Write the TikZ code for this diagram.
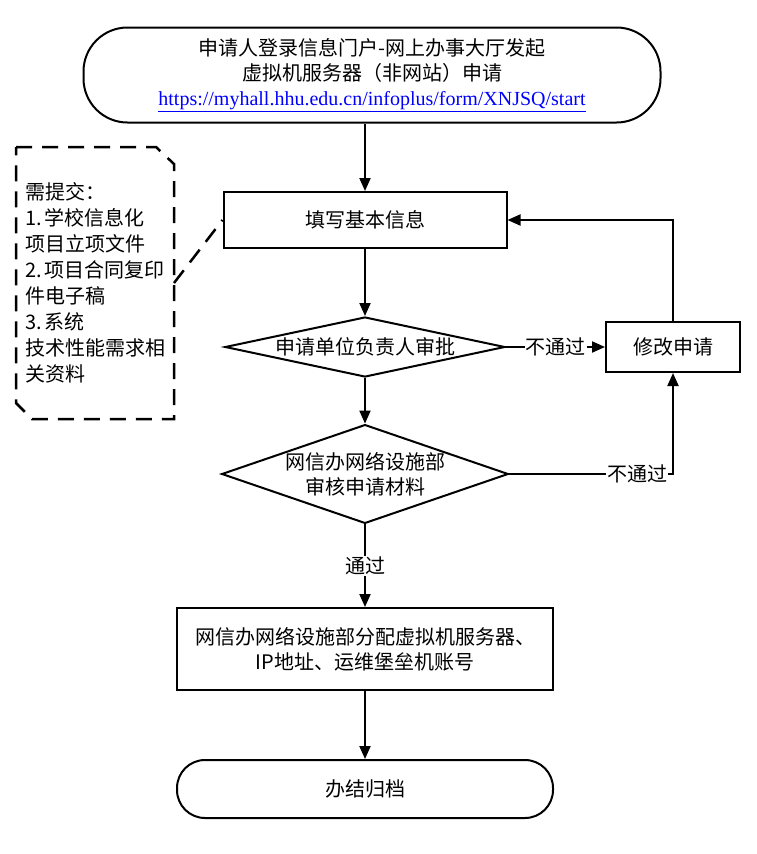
\documentclass[tikz,border=0pt]{standalone}
\usepackage{fontspec}
\usepackage{xcolor}
\usepackage{tikz}
\usetikzlibrary{arrows.meta,shapes.geometric}
\newfontfamily\cjk{Noto Sans CJK SC}
\newfontfamily\urlfont{Liberation Serif}
\definecolor{linkblue}{RGB}{0,0,255}

\begin{document}
\begin{tikzpicture}[x=1pt,y=-1pt,line width=2pt,
    every node/.style={font=\cjk\fontsize{20pt}{25pt}\selectfont},
    box/.style={draw,rectangle,align=center,inner sep=0pt},
    term/.style={draw,rectangle,align=center,inner sep=0pt},
    check/.style={draw,diamond,align=center,inner sep=0pt},
    flow/.style={-{Triangle[length=13pt,width=11pt]}},
    tag/.style={fill=white,inner sep=1pt},
    notebox/.style={font=\cjk\fontsize{20pt}{26pt}\selectfont,text width=140pt,align=left,inner sep=8pt,minimum height=270pt}]
    \useasboundingbox (0,0) rectangle (757,854);
                \node[term,rounded corners=44pt,minimum width=577pt,minimum height=95pt] (start) at (372,75)
                    {申请人登录信息门户-网上办事大厅发起\\虚拟机服务器（非网站）申请\\{\urlfont\color{linkblue}\underline{https://myhall.hhu.edu.cn/infoplus/form/XNJSQ/start}}};
                \node[box,minimum width=283pt,minimum height=56pt] (fill) at (365,220){填写基本信息};
                \node[check,aspect=4.7,minimum width=280pt,minimum height=60pt] (d1) at (365,347){申请单位负责人审批};
                \node[check,aspect=2.9,minimum width=276pt,minimum height=94pt] (d2) at (365,474){网信办网络设施部\\审核申请材料};
                \node[box,minimum width=134pt,minimum height=50pt] (mod) at (673,347){修改申请};
                \node[box,minimum width=376pt,minimum height=82pt] (alloc) at (365,649){网信办网络设施部分配虚拟机服务器、\\IP地址、运维堡垒机账号};
                \node[term,rounded corners=28pt,minimum width=376pt,minimum height=58pt] (done) at (365,789){办结归档};
                \node[notebox] (note) at (95,283)
                    {需提交：\\1.\,学校信息化\\项目立项文件\\2.\,项目合同复印\\件电子稿\\3.\,系统\\技术性能需求相\\关资料};
                \draw[line width=2.5pt,dash pattern=on 16pt off 10pt] (note.north west) -- ([xshift=-18pt]note.north east) -- ([yshift=-17pt]note.north east)
                    -- (note.south east) -- ([xshift=16pt]note.south west) -- ([yshift=16pt]note.south west) -- cycle;
                \draw[line width=2.5pt,dash pattern=on 16pt off 10pt] (note.east) -- (fill.west);
                \draw[flow] (fill.north |- start.south) -- (fill.north);
                \draw[flow] (fill.south) -- (d1.north);
                \draw[flow] (d1.south) -- (d2.north);
                \draw[flow] (d2.south) -- node[tag]{通过} (alloc.north);
                \draw[flow] (alloc.south) -- (done.north);
                \draw[flow] (d1.east) -- node[tag]{不通过} (mod.west);
                \draw[flow] (d2.east) -| node[tag,pos=0.39]{不通过} (mod.south);
                \draw[flow] (mod.north) |- (fill.east);
            \end{tikzpicture}
\end{document}
